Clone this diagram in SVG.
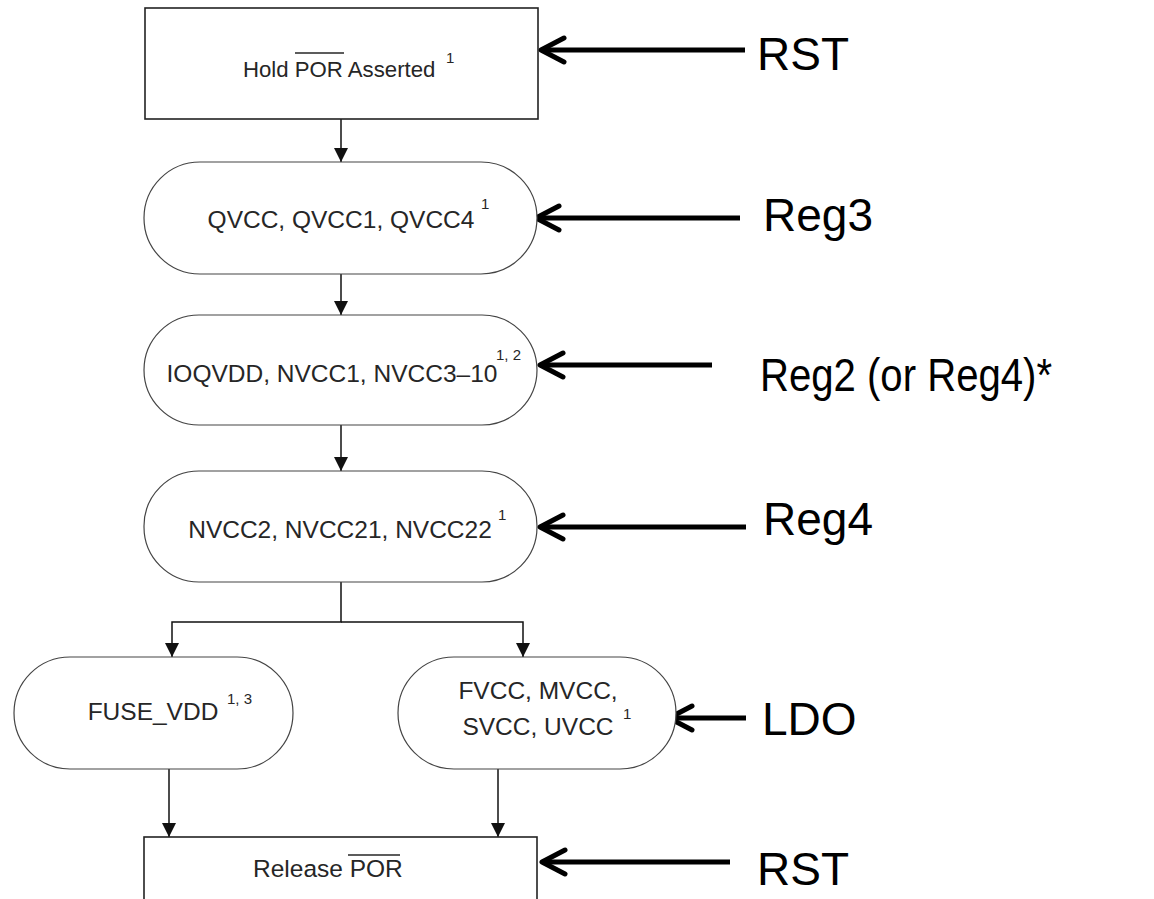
<svg xmlns="http://www.w3.org/2000/svg" width="1154" height="899" viewBox="0 0 1154 899">
  <style>
    .box { fill: #ffffff; stroke: #222222; stroke-width: 1.6; }
    .stad { fill: #ffffff; stroke: #444444; stroke-width: 1.2; }
    .t { font-family: "Liberation Sans", Arial, sans-serif; font-size: 24.5px; fill: #262626; }
    .th { font-family: "Liberation Sans", Arial, sans-serif; font-size: 22.2px; fill: #262626; }
    .sup { font-family: "Liberation Sans", Arial, sans-serif; font-size: 15px; fill: #262626; }
    .lbl { font-family: "Liberation Sans", Arial, sans-serif; font-size: 46px; fill: #000000; }
    .flow { fill: none; stroke: #111111; stroke-width: 1.5; marker-end: url(#tri); }
    .bold { fill: none; stroke: #000000; stroke-width: 5; marker-end: url(#chev); }
    .bar { stroke: #262626; stroke-width: 1.4; }
  </style>
  <defs>
    <marker id="tri" markerUnits="userSpaceOnUse" viewBox="0 0 14 14" refX="14" refY="7" markerWidth="14" markerHeight="14" orient="auto">
      <path d="M0,0 L14,7 L0,14 z" fill="#111111"/>
    </marker>
    <marker id="chev" markerUnits="userSpaceOnUse" viewBox="-30 -16 34 32" refX="0" refY="0" markerWidth="34" markerHeight="32" orient="auto">
      <path d="M-23,-12 L0,0 L-23,12" fill="none" stroke="#000000" stroke-width="5" stroke-linecap="round" stroke-linejoin="round"/>
    </marker>
  </defs>

  <rect width="1154" height="899" fill="#ffffff"/>

  <!-- flow connectors -->
  <g id="connectors">
    <path class="flow" d="M341,119 V162"/>
    <path class="flow" d="M341,274 V315"/>
    <path class="flow" d="M341,425 V471"/>
    <path class="flow" d="M341,582 V622 H172 V657"/>
    <path class="flow" d="M341,622 H523 V657"/>
    <path class="flow" d="M169,769 V837"/>
    <path class="flow" d="M498,769 V837"/>
    <!-- supply source arrows -->
    <path class="bold" d="M745,50 H541"/>
    <path class="bold" d="M740,218 H536"/>
    <path class="bold" d="M712,365 H540"/>
    <path class="bold" d="M746,527 H540"/>
    <path class="bold" d="M746,718 H669"/>
    <path class="bold" d="M730,862 H542"/>
  </g>

  <g id="hold-por">
    <rect class="box" x="145" y="8" width="393" height="111"/>
    <text class="th" x="243" y="77">Hold POR Asserted</text>
    <line class="bar" x1="295" y1="53" x2="344" y2="53"/>
    <text class="sup" x="446" y="63">1</text>
  </g>

  <g id="qvcc">
    <rect class="stad" x="144" y="162" width="393" height="112" rx="56" ry="56"/>
    <text class="t" x="341" y="228" text-anchor="middle">QVCC, QVCC1, QVCC4</text>
    <text class="sup" x="481" y="209">1</text>
  </g>

  <g id="ioqvdd">
    <rect class="stad" x="144" y="315" width="393" height="110" rx="55" ry="55"/>
    <text class="t" x="332" y="382" text-anchor="middle">IOQVDD, NVCC1, NVCC3–10</text>
    <text class="sup" x="496" y="360">1, 2</text>
  </g>

  <g id="nvcc2">
    <rect class="stad" x="144" y="471" width="393" height="111" rx="55" ry="55"/>
    <text class="t" x="340" y="538" text-anchor="middle">NVCC2, NVCC21, NVCC22</text>
    <text class="sup" x="498" y="520">1</text>
  </g>

  <g id="fuse-vdd">
    <rect class="stad" x="14" y="657" width="279" height="112" rx="56" ry="56"/>
    <text class="t" x="153" y="720" text-anchor="middle">FUSE_VDD</text>
    <text class="sup" x="227" y="704">1, 3</text>
  </g>

  <g id="fvcc">
    <rect class="stad" x="398" y="657" width="278" height="112" rx="56" ry="56"/>
    <text class="t" x="538" y="699" text-anchor="middle">FVCC, MVCC,</text>
    <text class="t" x="538" y="735" text-anchor="middle">SVCC, UVCC</text>
    <text class="sup" x="623" y="719">1</text>
  </g>

  <g id="release-por">
    <rect class="box" x="144" y="837" width="393" height="100"/>
    <text class="t" x="253" y="877">Release POR</text>
    <line class="bar" x1="348" y1="855" x2="400" y2="855"/>
  </g>

  <g id="label-rst-top"><text class="lbl" x="757" y="70">RST</text></g>
  <g id="label-reg3"><text class="lbl" x="763" y="231">Reg3</text></g>
  <g id="label-reg2"><text class="lbl" x="760" y="391" textLength="292" lengthAdjust="spacingAndGlyphs">Reg2 (or Reg4)*</text></g>
  <g id="label-reg4"><text class="lbl" x="763" y="535">Reg4</text></g>
  <g id="label-ldo"><text class="lbl" x="762" y="735">LDO</text></g>
  <g id="label-rst-bottom"><text class="lbl" x="757" y="885">RST</text></g>
</svg>
